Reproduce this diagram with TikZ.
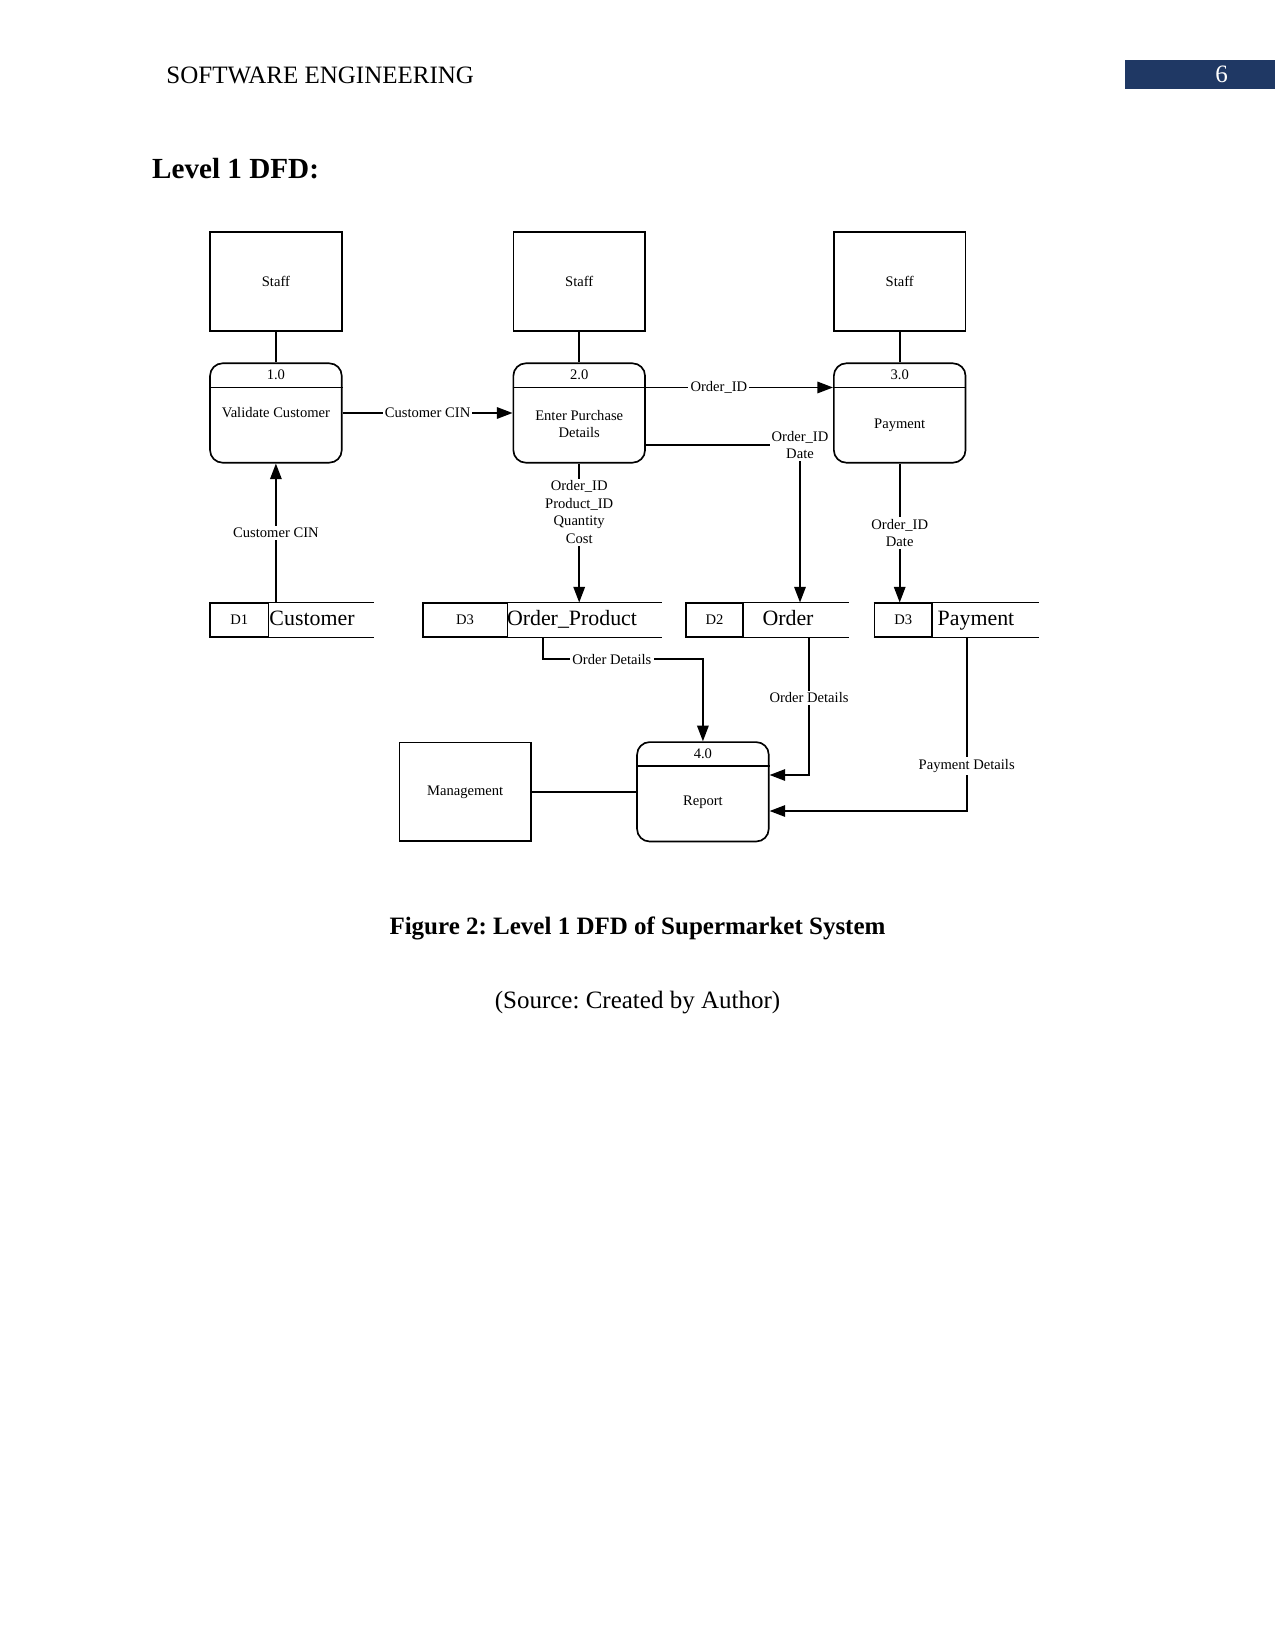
\documentclass[tikz,border=0pt]{standalone}
\usepackage{fontspec}
\setmainfont{Liberation Serif}
\usepackage{xcolor}
\usetikzlibrary{arrows.meta,positioning,calc}
\definecolor{hdrblue}{HTML}{1F3864}
\newcommand\dfdsmall{\fontsize{7}{8.4}\selectfont}
\newcommand\dfdstore{\fontsize{10.5}{12}\selectfont}
\newcommand\docsize{\fontsize{12}{14}\selectfont}
\frenchspacing

\begin{document}
\begin{tikzpicture}[
  x=0.48pt, y=-0.48pt,
  ent/.style={rectangle, draw, line width=0.8pt, minimum width=63.2pt,
              minimum height=47.2pt, inner sep=0pt, font=\dfdsmall},
  proc/.style={rectangle, draw, rounded corners=6pt, line width=0.8pt,
               minimum width=63.2pt, minimum height=47.7pt, inner sep=0pt},
  ptxt/.style={font=\dfdsmall, align=center, inner sep=0pt},
  sid/.style={rectangle, draw, line width=0.8pt, minimum height=16pt,
              inner sep=0pt, font=\dfdsmall},
  sname/.style={font=\dfdstore, inner sep=0pt, anchor=base},
  lbl/.style={fill=white, font=\dfdsmall, align=center, inner sep=1pt},
  flow/.style={line width=0.8pt},
  doc/.style={font=\docsize, inner sep=0pt},
  >={Triangle[length=7.5pt,width=5.5pt]}
]
  \useasboundingbox (0,0) rectangle (1275,1651);

  \fill[hdrblue] (1125,60) rectangle (1275,89);
  \node[doc, anchor=base, text=white] (pg) at (1221.7,82.7) {6};
  \node[doc, anchor=base west] (hdr) at (166,83.3) {SOFTWARE ENGINEERING};
  \node[doc, anchor=base west, font=\fontsize{14}{17}\selectfont\bfseries] (ttl) at (151.7,178.3) {Level 1 DFD:};

  \node[ent] (s1) at (275.9,281.5) {Staff};
  \node[ent] (s2) at (579.2,281.5) {Staff};
  \node[ent] (s3) at (899.7,281.5) {Staff};
  \node[ent] (m)  at (465.2,791.8) {Management};

  \node[proc] (p1) at (275.9,413) {};
  \node[proc] (p2) at (579.2,413) {};
  \node[proc] (p3) at (899.7,413) {};
  \node[proc] (p4) at (702.9,791.8) {};
  \foreach \p/\n in {p1/1.0, p2/2.0, p3/3.0, p4/4.0} {
    \draw[flow] ([yshift=-12pt]\p.north west) -- ([yshift=-12pt]\p.north east);
    \node[ptxt] (\p n) at ([yshift=-6pt]\p.north) {\n};
  }
  \node[ptxt] (p1t) at (p1.center) {Validate Customer};
  \node[ptxt] (p2t) at ([yshift=-5.4pt]p2.center) {Enter Purchase\\Details};
  \node[ptxt] (p3t) at ([yshift=-5.8pt]p3.center) {Payment};
  \node[ptxt] (p4t) at ([yshift=-5.2pt]p4.center) {Report};

  \node[sid, minimum width=28pt]   (d1) at (239.2,620) {D1};
  \node[sid, minimum width=40.7pt] (d3) at (465.1,620) {D3};
  \node[sid, minimum width=27.6pt] (d2) at (714.5,620) {D2};
  \node[sid, minimum width=27.8pt] (d4) at (903.3,620) {D3};
  \draw[flow] (d1.north west) -- ++(165,0) (d1.south west) -- ++(165,0);
  \draw[flow] (d3.north west) -- ++(240,0) (d3.south west) -- ++(240,0);
  \draw[flow] (d2.north west) -- ++(164.3,0) (d2.south west) -- ++(164.3,0);
  \draw[flow] (d4.north west) -- ++(165,0) (d4.south west) -- ++(165,0);
  \node[sname] (d1t) at (312,625) {Customer};
  \node[sname] (d3t) at (572,625) {Order\_Product};
  \node[sname] (d2t) at (788,625) {Order};
  \node[sname] (d4t) at (976,625) {Payment};

  \draw[flow] (s1) -- (p1);
  \draw[flow] (s2) -- (p2);
  \draw[flow] (s3) -- (p3);
  \draw[flow] (m) -- (p4);
  \draw[flow,->] (p1.south |- d1.north) -- node[lbl]{Customer CIN} (p1.south);
  \draw[flow,->] (p1) -- node[lbl]{Customer CIN} (p2);
  \draw[flow,->] ([yshift=-12pt]p2.north east) -- node[lbl,pos=.39]{Order\_ID} ([yshift=-12pt]p3.north west);
  \coordinate (c1) at (800,445);
  \draw[flow,->] (p2.east |- c1) -- (c1) node[lbl]{Order\_ID\\Date} -- (c1 |- d2.north);
  \draw[flow,->] (p2) -- node[lbl,pos=.35]{Order\_ID\\Product\_ID\\Quantity\\Cost} (p2.south |- d3.north);
  \draw[flow,->] (p3) -- node[lbl]{Order\_ID\\Date} (p3.south |- d4.north);

  \coordinate (k1) at (543.3,659.3);
  \coordinate (k2) at (809,775);
  \coordinate (k3) at (966.7,811);
  \draw[flow,->] (k1 |- d3.south) -- (k1) -- node[lbl,pos=.43]{Order Details} (k1 -| p4.north) -- (p4.north);
  \draw[flow,->] (k2 |- d2.south) -- node[lbl,pos=.44]{Order Details} (k2) -- (k2 -| p4.east);
  \draw[flow,->] (k3 |- d4.south) -- node[lbl,pos=.74]{Payment Details} (k3) -- (k3 -| p4.east);

  \node[doc, anchor=base, font=\docsize\bfseries] (cap) at (637.5,934) {Figure 2: Level 1 DFD of Supermarket System};
  \node[doc, anchor=base] (src) at (637.5,1008) {(Source: Created by Author)};
\end{tikzpicture}
\end{document}
